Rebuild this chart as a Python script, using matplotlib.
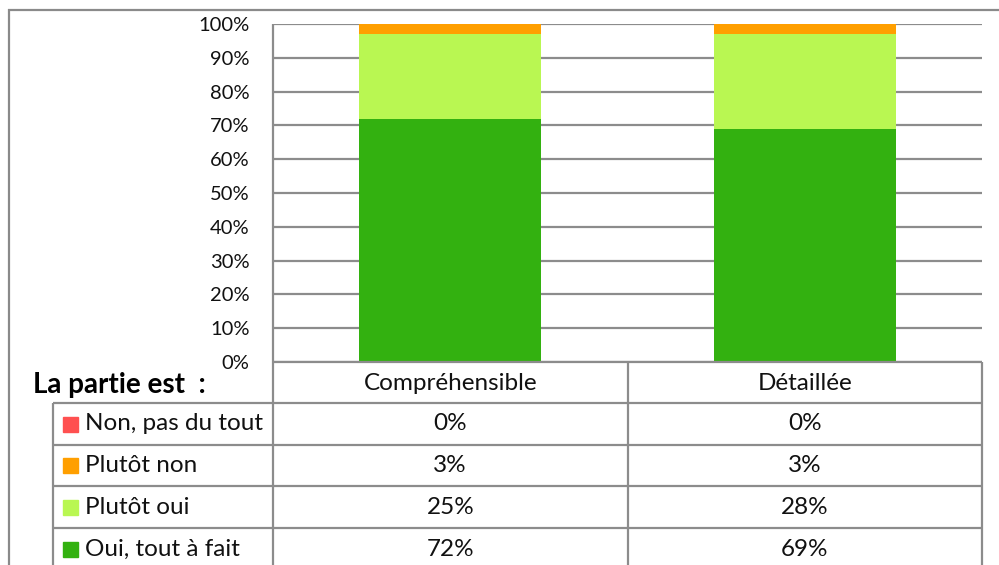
import matplotlib
matplotlib.use("Agg")
import matplotlib.pyplot as plt
from matplotlib.patches import Rectangle
from matplotlib.lines import Line2D

plt.rcParams['font.family'] = ['Lato', 'DejaVu Sans']

# Data
categories = ["Compréhensible", "Détaillée"]
series_names = ["Non, pas du tout", "Plutôt non", "Plutôt oui", "Oui, tout à fait"]
series_colors = ["#FF5050", "#FF9F00", "#B9F752", "#33B110"]
non_pas_du_tout = [0, 0]
plutot_non = [3, 3]
plutot_oui = [25, 28]
oui_tout_a_fait = [72, 69]
values = {
    "Non, pas du tout": non_pas_du_tout,
    "Plutôt non": plutot_non,
    "Plutôt oui": plutot_oui,
    "Oui, tout à fait": oui_tout_a_fait,
}
y_ticks = [0, 10, 20, 30, 40, 50, 60, 70, 80, 90, 100]
row_title = "La partie est  :"

W, H = 999, 565
fig = plt.figure(figsize=(W / 100, H / 100), dpi=100)

# Pixel layout
px_left, px_right = 273, 982
px_top, px_bottom = 24, 362
grid_col = "#8C8C8C"
table_fs = 17.5

ax = fig.add_axes([px_left / W, (H - px_bottom) / H,
                   (px_right - px_left) / W, (px_bottom - px_top) / H])
ax.set_xlim(-0.5, len(categories) - 0.5)
ax.set_ylim(0, 100)
ax.set_yticks(y_ticks)
ax.set_yticklabels([f"{t}%" for t in y_ticks], fontsize=14.5, color="#111111")
ax.tick_params(axis="y", length=0, pad=17)
ax.set_xticks([])
for s in ax.spines.values():
    s.set_visible(False)
ax.yaxis.grid(True, color=grid_col, linewidth=1.6)
ax.set_axisbelow(True)

# Stacked bars: bottom-most is "Oui, tout à fait"
bottom = [0] * len(categories)
for name, col in reversed(list(zip(series_names, series_colors))):
    vals = values[name]
    ax.bar(range(len(categories)), vals, bottom=bottom, width=0.513,
           color=col, edgecolor="none", zorder=3)
    bottom = [b + v for b, v in zip(bottom, vals)]

# Overlay in pixel coordinates for frame and data table
ov = fig.add_axes([0, 0, 1, 1], zorder=5)
ov.set_xlim(0, W)
ov.set_ylim(H, 0)
ov.axis("off")
ov.patch.set_alpha(0)

def line(x0, y0, x1, y1, c=grid_col, lw=1.6):
    ov.add_line(Line2D([x0, x1], [y0, y1], color=c, linewidth=lw,
                       solid_capstyle="butt"))

# outer chart frame
line(8, 9.5, W, 9.5, c="#8A8A8A", lw=1.6)
line(8.5, 9, 8.5, H, c="#8A8A8A", lw=1.6)

# table geometry
row_edges = [403, 445, 486, 528, 570]
col_mid = (px_left + px_right) / 2
legend_left = 53

line(px_left, px_top, px_left, H)
line(px_left, px_bottom, px_right, px_bottom)
line(col_mid, px_bottom, col_mid, H)
line(px_right, px_bottom, px_right, H)
line(legend_left, row_edges[0], legend_left, H)
for y in row_edges[:-1]:
    line(legend_left, y, px_right, y)

# header row
centers = [px_left + (i + 0.5) * (px_right - px_left) / len(categories)
           for i in range(len(categories))]
header_y = (px_bottom + row_edges[0]) / 2 + 1
for cx, cat in zip(centers, categories):
    ov.text(cx, header_y, cat, ha="center", va="center", fontsize=table_fs,
            color="#111111")
ov.text(33, header_y + 1, row_title, ha="left", va="center", fontsize=20,
        fontweight="bold", color="#000000")

# data rows
row_centers = [424, 465.5, 507, 549]
for name, col, cy in zip(series_names, series_colors, row_centers):
    ov.add_patch(Rectangle((63, cy - 7.5), 15, 15, color=col))
    ov.text(85, cy, name, ha="left", va="center", fontsize=table_fs,
            color="#111111")
    for cx, v in zip(centers, values[name]):
        ov.text(cx, cy, f"{v}%", ha="center", va="center", fontsize=table_fs,
                color="#111111")

fig.savefig("out.png", dpi=100, facecolor="white")
